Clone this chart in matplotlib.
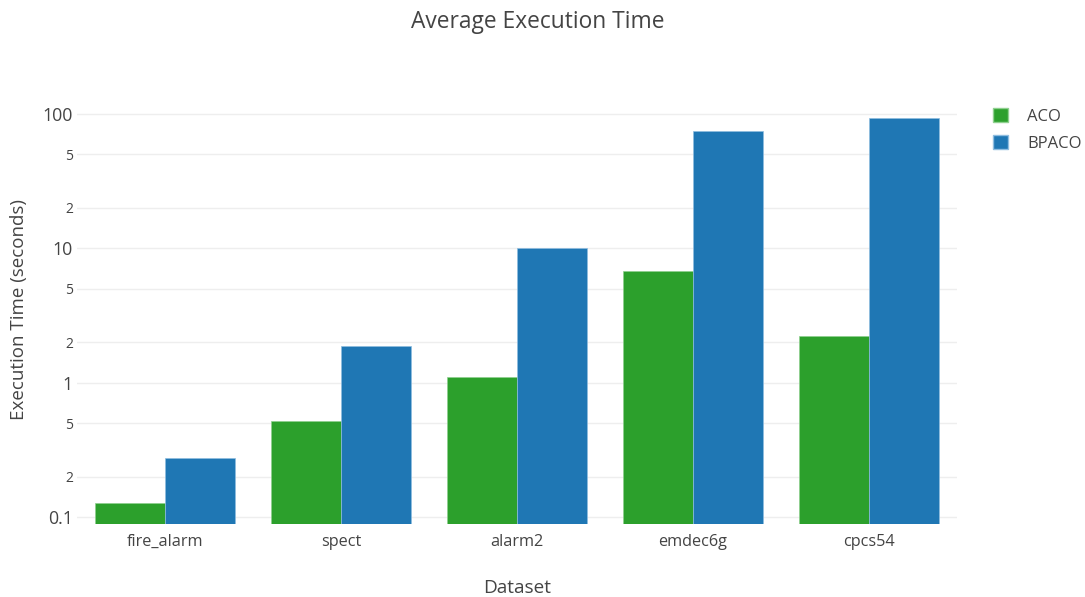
import matplotlib
matplotlib.use("Agg")
import matplotlib.pyplot as plt
import numpy as np
from matplotlib.patches import Patch

categories = ["fire_alarm", "spect", "alarm2", "emdec6g", "cpcs54"]
aco = [0.127, 0.52, 1.11, 6.74, 2.24]
bpaco = [0.275, 1.86, 10.0, 74.6, 93.0]
series_names = ["ACO", "BPACO"]
ytick_vals = [0.1, 0.2, 0.5, 1, 2, 5, 10, 20, 50, 100]
ytick_labels = ["0.1", "2", "5", "1", "2", "5", "10", "2", "5", "100"]

plt.rcParams['font.family'] = ['Open Sans', 'DejaVu Sans']
txt = '#444444'

fig = plt.figure(figsize=(10.85, 5.97), dpi=100)
ax = fig.add_axes([77/1085, 73/597, 880/1085, 424/597])

x = np.arange(len(categories))
w = 0.4
green = '#2ca02c'
blue = '#1f77b4'
ymin = 10**(-1.052)
ax.bar(x - w/2, np.array(aco) - ymin, w, bottom=ymin, color=green, edgecolor='#8fd08f', linewidth=0.5, zorder=3)
ax.bar(x + w/2, np.array(bpaco) - ymin, w, bottom=ymin, color=blue, edgecolor='#8fbde0', linewidth=0.5, zorder=3)

ax.set_yscale('log')
ax.set_ylim(ymin, 10**2.104)
ax.set_xlim(-0.5, len(categories) - 0.5)
ax.set_yticks(ytick_vals)
ax.set_yticklabels(ytick_labels)
ax.yaxis.set_minor_locator(matplotlib.ticker.NullLocator())
ax.set_xticks(x)
ax.set_xticklabels(categories)
ax.tick_params(axis='both', length=0, colors=txt)
ax.tick_params(axis='x', labelsize=11.7, pad=7)
ax.tick_params(axis='y', pad=3)
for lab in ax.get_yticklabels():
    if lab.get_text() in ("0.1", "1", "10", "100"):
        lab.set_fontsize(12.8)
    else:
        lab.set_fontsize(10)
ax.grid(axis='y', color='#eeeeee', linewidth=1, zorder=0)
for s in ax.spines.values():
    s.set_visible(False)

fig.text(538/1085, 1 - 22/597, "Average Execution Time", ha='center', va='center', fontsize=16.4, color=txt)
fig.text(517/1085, 1 - 588/597, "Dataset", ha='center', va='center', fontsize=13.7, color=txt)
fig.text(19/1085, (597 - 310)/597, "Execution Time (seconds)", ha='center', va='center', rotation=90, fontsize=13.5, color=txt)

handles = [Patch(facecolor=green, edgecolor='#8fd08f'), Patch(facecolor=blue, edgecolor='#8fbde0')]
fig.legend(handles, series_names, loc='upper left', bbox_to_anchor=(993/1085, 1 - 108/597),
           frameon=False, handlelength=0.9, handleheight=0.9, handletextpad=1.15,
           labelspacing=0.62, fontsize=12, labelcolor=txt, borderaxespad=0, borderpad=0)

fig.savefig("out.png", dpi=100, facecolor='white')
